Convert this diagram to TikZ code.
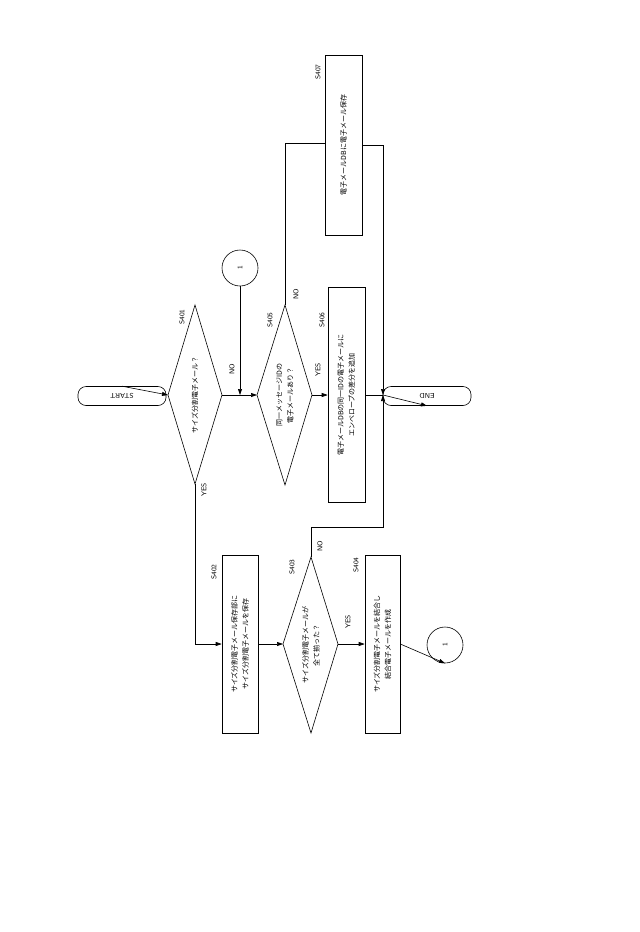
\documentclass[tikz,border=0pt]{standalone}
\usepackage{fontspec}
\newfontfamily\jp{Noto Sans CJK JP}
\usetikzlibrary{arrows.meta}
\begin{document}
\begin{tikzpicture}[x=1pt,y=-1pt,
  every node/.style={font=\jp\fontsize{7}{11}\selectfont},
  txt/.style={rotate=90,align=center,inner sep=0pt},
  box/.style={draw,rotate=90,align=center,inner sep=2pt},
  lbl/.style={rotate=90,font=\sffamily\fontsize{7}{8}\selectfont,inner sep=0pt},
  ar/.style={-{Triangle[length=6pt,width=4pt]}},
  ln/.style={line width=0.6pt}]
\useasboundingbox (0,0) rectangle (640,932);
\tikzset{every path/.style={line width=0.6pt}}
% START / END
\node[draw,rounded corners=8pt,rotate=90,minimum width=88pt,minimum height=19pt,lbl] (start) at (122,396) {START};
\node[draw,rounded corners=8pt,rotate=90,minimum width=88pt,minimum height=19pt,lbl] (end) at (427,396) {END};
% S401 diamond
\coordinate (d1l) at (168,395); \coordinate (d1r) at (222,395);
\coordinate (d1t) at (195,305); \coordinate (d1b) at (195,484);
\draw (d1l)--(d1t)--(d1r)--(d1b)--cycle;
\node[txt] (t1) at (195,395) {サイズ分割電子メール？};
% S405 diamond
\coordinate (d5l) at (257,395); \coordinate (d5r) at (312,395);
\coordinate (d5t) at (285,305); \coordinate (d5b) at (285,485);
\draw (d5l)--(d5t)--(d5r)--(d5b)--cycle;
\node[txt] (t5) at (285,395) {同一メッセージIDの\\電子メールあり？};
% circle 1 top
\node[draw,circle,minimum size=36pt,inner sep=0pt,lbl] (c1) at (240,268) {1};
% S406
\node[box,minimum width=215pt,minimum height=37pt] (b6) at (346.5,395) {電子メールDBの同一IDの電子メールに\\エンベロープの差分を追加};
% S407
\node[box,minimum width=180pt,minimum height=37pt] (b7) at (343.5,145) {電子メールDBに電子メール保存};
% S402
\node[box,minimum width=178pt,minimum height=36pt] (b2) at (240,644) {サイズ分割電子メール保存部に\\サイズ分割電子メールを保存};
% S403
\coordinate (d3l) at (283,644); \coordinate (d3r) at (338,644);
\coordinate (d3t) at (311,557); \coordinate (d3b) at (311,733);
\draw (d3l)--(d3t)--(d3r)--(d3b)--cycle;
\node[txt] (t3) at (311,645) {サイズ分割電子メールが\\全て揃った？};
% S404
\node[box,minimum width=178pt,minimum height=35pt] (b4) at (382.5,644) {サイズ分割電子メールを結合し\\結合電子メールを作成};
\node[draw,circle,minimum size=36pt,inner sep=0pt,lbl] (c2) at (445,645) {1};
\coordinate (j) at (383,395);
% connectors
\draw[ar] (start.south) -- (d1l);
\draw[ar] (d1r) -- (d5l);
\draw[ar] (c1.west) -- (240,395);
\draw[ar] (d5r) -- (b6.north);
\draw (b6.south) -- (j);
\draw[ar] (j) -- (end.north);
\draw (d5t) -- (285,143) -- (b7.north |- 0,143);
\draw[ar] (b7.south |- 0,145) -- (383,145) -- (j);
\draw[ar] (d1b) -- (195,644) -- (b2.north);
\draw[ar] (b2.south) -- (d3l);
\draw[ar] (d3r) -- (b4.north);
\draw[ar] (b4.south) -- (c2.west);
\draw[ar] (d3t) -- (311,527) -- (383,527) -- (j);
% labels
\node[lbl] at (182,317) {S401};
\node[lbl] at (270,320) {S405};
\node[lbl] at (322,320) {S406};
\node[lbl] at (318,72) {S407};
\node[lbl] at (214,572) {S402};
\node[lbl] at (292,567) {S403};
\node[lbl] at (356,565) {S404};
\node[lbl] at (232,369) {NO};
\node[lbl] at (296,294) {NO};
\node[lbl] at (318,370) {YES};
\node[lbl] at (204,490) {YES};
\node[lbl] at (320,546) {NO};
\node[lbl] at (348,622) {YES};
\end{tikzpicture}
\end{document}
